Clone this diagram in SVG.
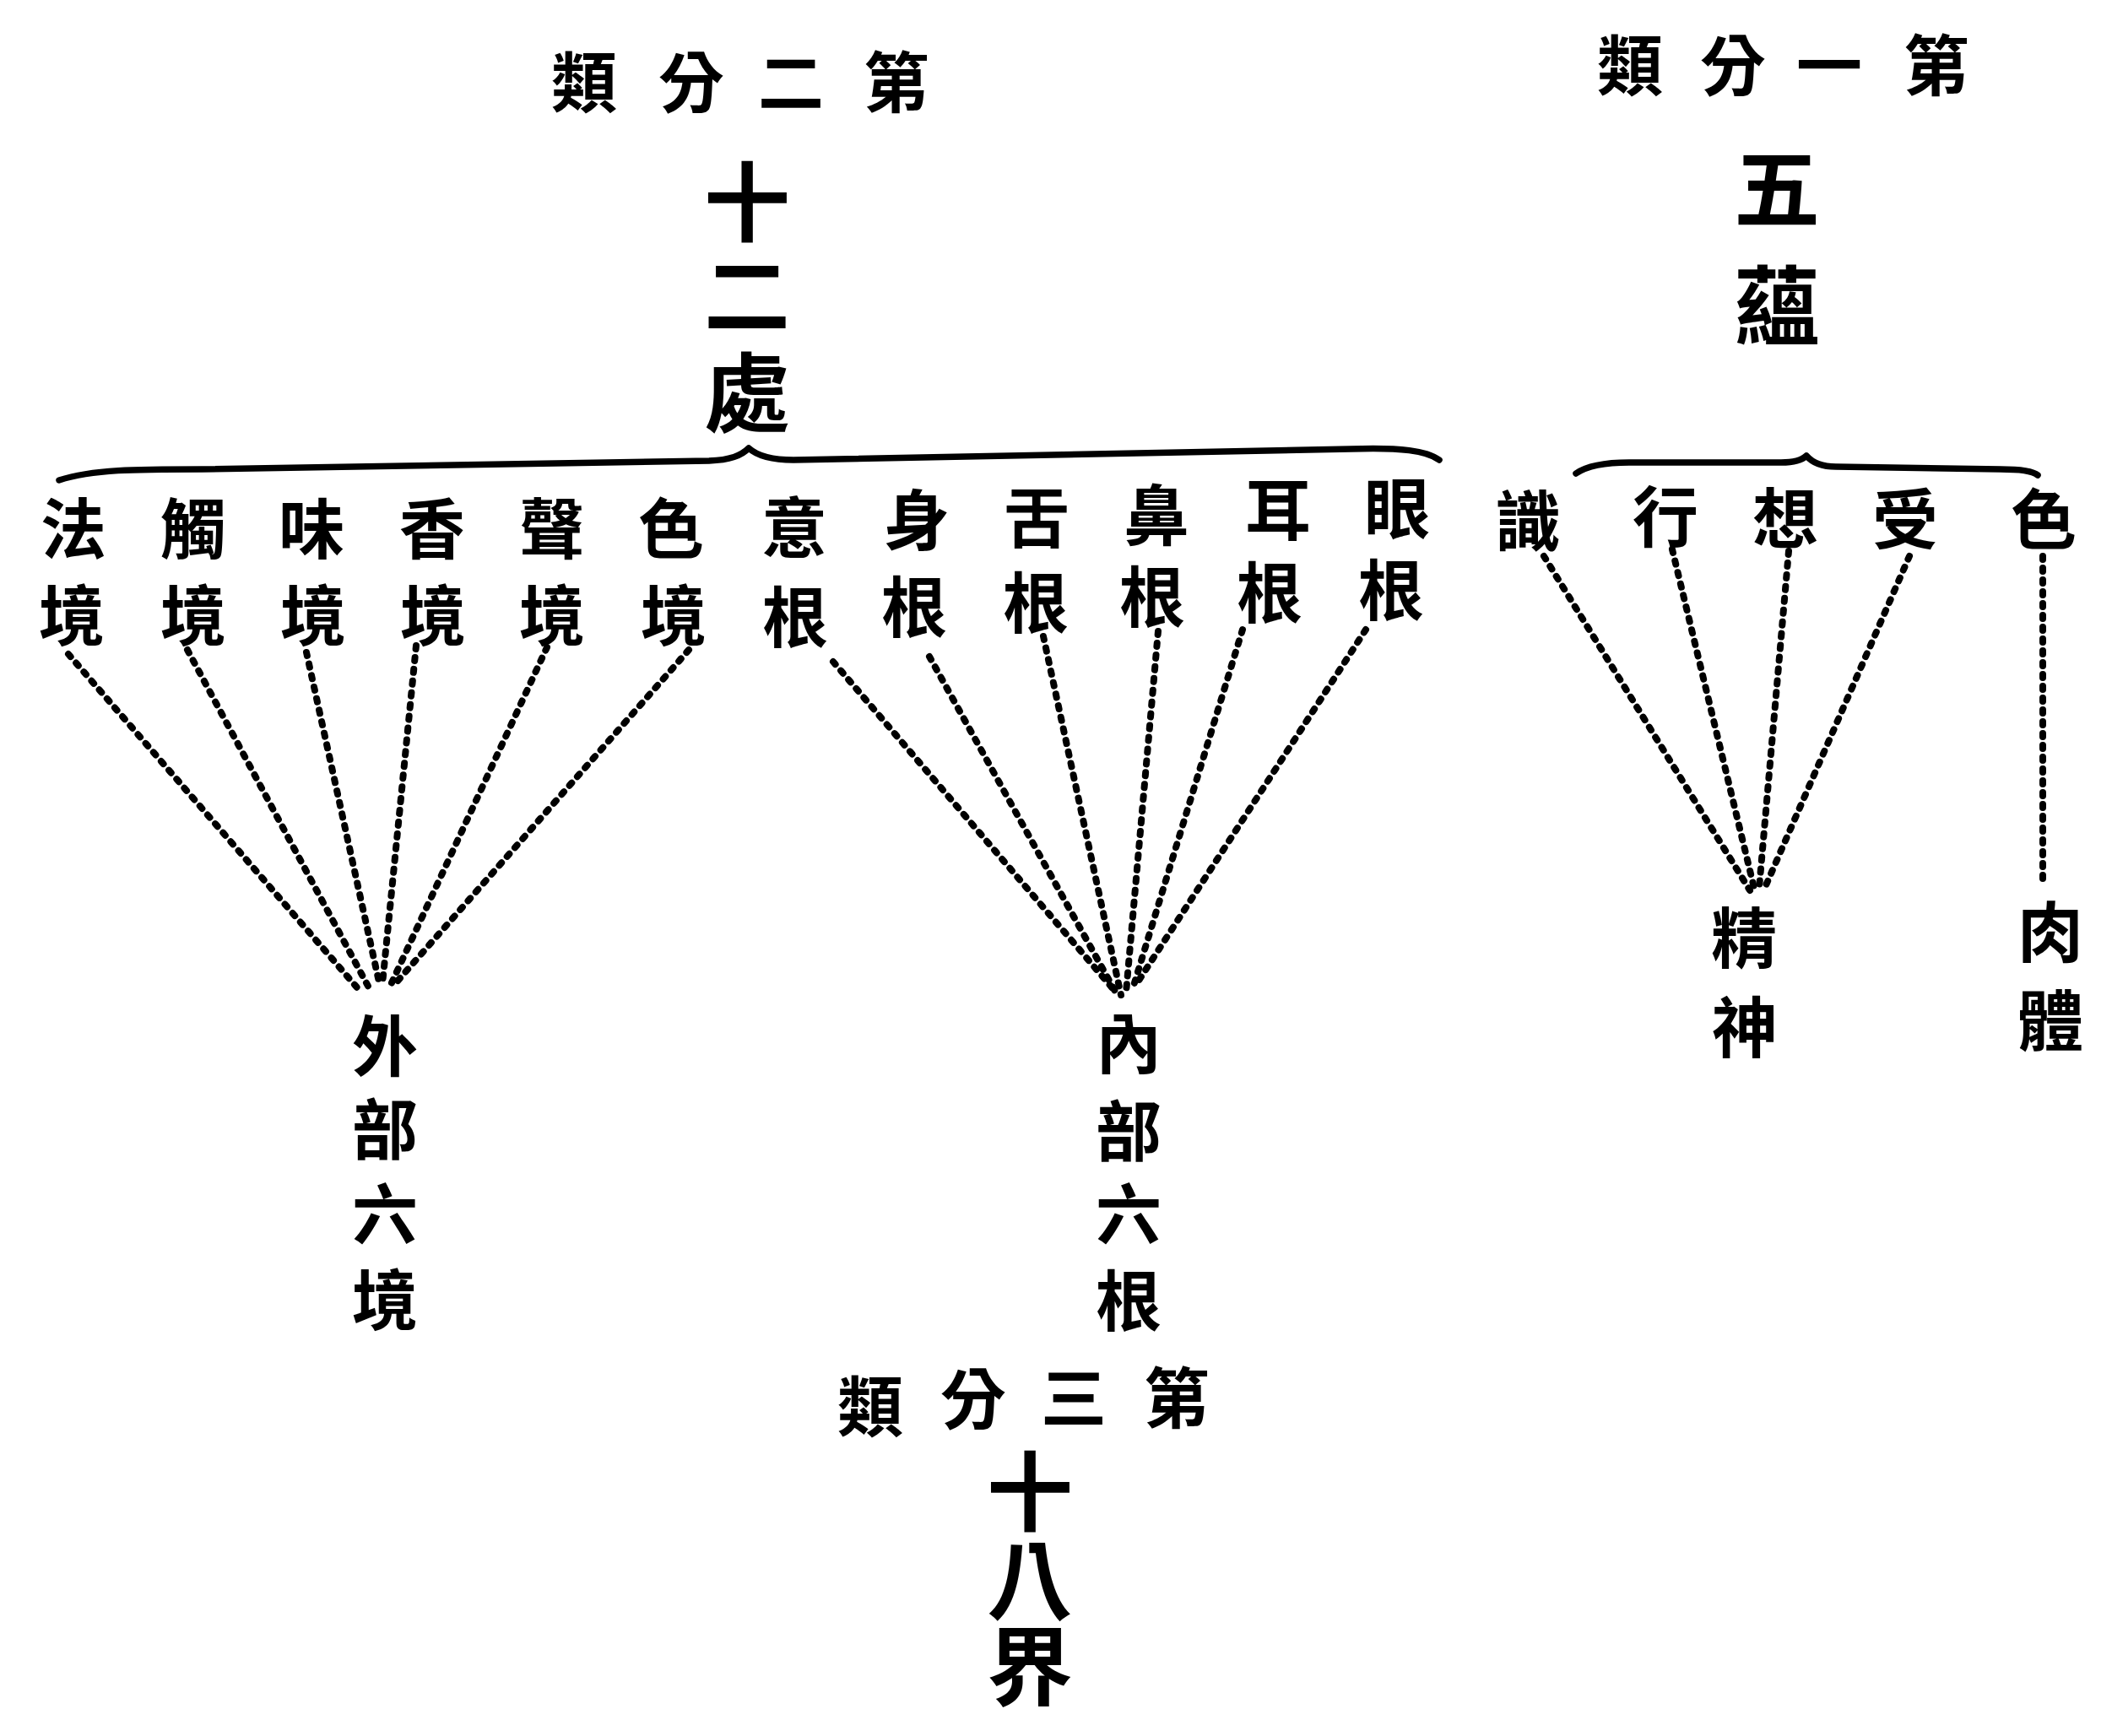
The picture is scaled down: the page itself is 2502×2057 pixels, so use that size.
<svg xmlns="http://www.w3.org/2000/svg" width="2502" height="2057" viewBox="0 0 2502 2057">
<style>
text{font-family:"Noto Sans CJK TC","Noto Sans CJK JP",sans-serif;font-weight:700;fill:#000;text-anchor:middle;dominant-baseline:central}
.s{font-size:78px}
.b{font-size:102px;font-weight:700}
.brace{fill:none;stroke:#000;stroke-width:7.5;stroke-linecap:round;stroke-linejoin:round}
.dot{fill:none;stroke:#000;stroke-width:8;stroke-linecap:round;stroke-dasharray:4 10}
</style>
<rect width="2502" height="2057" fill="#fff"/>
<g id="title2"><text x="692" y="93" class="s">類</text><text x="819" y="93" class="s">分</text><text x="937" y="93" class="s">二</text><text x="1062" y="93" class="s">第</text></g>
<g id="title1"><text x="1931" y="73" class="s">類</text><text x="2053" y="73" class="s">分</text><text x="2167" y="73" class="s">一</text><text x="2294" y="73" class="s">第</text></g>
<g id="title3"><text x="1031" y="1662" class="s">類</text><text x="1153" y="1653" class="s">分</text><text x="1272" y="1652" class="s">三</text><text x="1394" y="1652" class="s">第</text></g>
<g id="n-12chu"><text x="885" y="233" class="b">十</text><text x="885" y="343" class="b">二</text><text x="885" y="459" class="b">處</text></g>
<g id="n-5yun"><text x="2105" y="217" class="b">五</text><text x="2105" y="356" class="b">蘊</text></g>
<g id="n-18jie"><text x="1220" y="1761" class="b">十</text><text x="1220" y="1866" class="b">八</text><text x="1220" y="1968" class="b">界</text></g>
<g id="braces">
<path class="brace" d="M70 569 C110 556 160 556 240 556 L840 546 C865 545 878 540 887 531 C897 540 912 545 940 545 L1600 532 C1660 530 1690 534 1705 545"/>
<path class="brace" d="M1867 561 C1880 552 1900 548 1930 548 L2110 548 C2125 548 2134 546 2140 540 C2146 547 2156 553 2175 553 L2370 556 C2395 556 2408 558 2414 563"/>
</g>
<g id="n-fa"><text x="87" y="622" class="s">法</text><text x="85" y="725" class="s">境</text></g>
<g id="n-chu"><text x="229" y="622" class="s">觸</text><text x="229" y="725" class="s">境</text></g>
<g id="n-wei"><text x="369" y="622" class="s">味</text><text x="371" y="725" class="s">境</text></g>
<g id="n-xiang"><text x="512" y="622" class="s">香</text><text x="513" y="725" class="s">境</text></g>
<g id="n-sheng"><text x="654" y="622" class="s">聲</text><text x="654" y="725" class="s">境</text></g>
<g id="n-se1"><text x="795" y="622" class="s">色</text><text x="798" y="725" class="s">境</text></g>
<g id="n-yi"><text x="941" y="621" class="s">意</text><text x="942" y="727" class="s">根</text></g>
<g id="n-shen"><text x="1086" y="612" class="s">身</text><text x="1083" y="715" class="s">根</text></g>
<g id="n-she"><text x="1228" y="609" class="s">舌</text><text x="1227" y="710" class="s">根</text></g>
<g id="n-bi"><text x="1370" y="606" class="s">鼻</text><text x="1365" y="703" class="s">根</text></g>
<g id="n-er"><text x="1514" y="600" class="s">耳</text><text x="1504" y="698" class="s">根</text></g>
<g id="n-yan"><text x="1655" y="598" class="s">眼</text><text x="1648" y="695" class="s">根</text></g>
<g id="n-shi"><text x="1810" y="613" class="s">識</text></g>
<g id="n-xing"><text x="1973" y="608" class="s">行</text></g>
<g id="n-xiang2"><text x="2115" y="610" class="s">想</text></g>
<g id="n-shou"><text x="2257" y="611" class="s">受</text></g>
<g id="n-se2"><text x="2421" y="611" class="s">色</text></g>
<g id="n-wai"><text x="456" y="1235" class="s">外</text><text x="456" y="1334" class="s">部</text><text x="456" y="1434" class="s">六</text><text x="456" y="1536" class="s">境</text></g>
<g id="n-nei"><text x="1337" y="1232" class="s">內</text><text x="1337" y="1336" class="s">部</text><text x="1337" y="1434" class="s">六</text><text x="1337" y="1537" class="s">根</text></g>
<g id="n-jingshen"><text x="2066" y="1107" class="s">精</text><text x="2067" y="1213" class="s">神</text></g>
<g id="n-routi"><text x="2429" y="1100" class="s">肉</text><text x="2429" y="1205" class="s">體</text></g>
<g id="connectors">
<path class="dot" d="M81 775 L428 1176"/>
<path class="dot" d="M222 770 L439 1174"/>
<path class="dot" d="M363 773 L450 1168"/>
<path class="dot" d="M493 765 L453 1166"/>
<path class="dot" d="M648 767 L461 1171"/>
<path class="dot" d="M816 770 L466 1168"/>
<path class="dot" d="M987 784 L1318 1171"/>
<path class="dot" d="M1101 778 L1323 1178"/>
<path class="dot" d="M1236 754 L1328 1179"/>
<path class="dot" d="M1372 748 L1334 1176"/>
<path class="dot" d="M1472 746 L1342 1171"/>
<path class="dot" d="M1618 746 L1345 1168"/>
<path class="dot" d="M1829 659 L2073 1055"/>
<path class="dot" d="M1981 651 L2078 1052"/>
<path class="dot" d="M2119 653 L2084 1052"/>
<path class="dot" d="M2262 659 L2092 1049"/>
<path class="dot" d="M2420 659 L2420 1041"/>
</g>
</svg>
